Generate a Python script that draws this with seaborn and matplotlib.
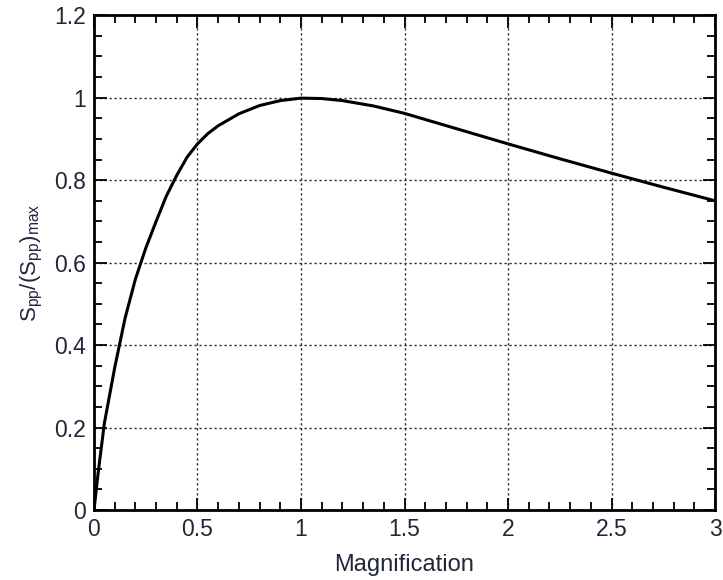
import matplotlib
matplotlib.use("Agg")
import matplotlib.pyplot as plt
from matplotlib.ticker import MultipleLocator
import seaborn as sns
import pandas as pd

# Normalised signal versus magnification
magnification = [0.0, 0.02, 0.05, 0.1, 0.15, 0.2, 0.25, 0.3, 0.35, 0.4, 0.45, 0.5, 0.55, 0.6,
                 0.7, 0.8, 0.9, 1.0, 1.1, 1.2, 1.35, 1.5, 1.75, 2.0, 2.25, 2.5, 2.75, 3.0]
s_ratio = [0.0, 0.09, 0.21, 0.345, 0.465, 0.56, 0.635, 0.70, 0.762, 0.812, 0.856, 0.888, 0.913,
           0.932, 0.961, 0.981, 0.993, 0.999, 0.998, 0.993, 0.980, 0.962, 0.925, 0.888, 0.852,
           0.817, 0.783, 0.75]

x_ticks = [0, 0.5, 1, 1.5, 2, 2.5, 3]
x_tick_labels = ["0", "0.5", "1", "1.5", "2", "2.5", "3"]
y_ticks = [0, 0.2, 0.4, 0.6, 0.8, 1.0, 1.2]
y_tick_labels = ["0", "0.2", "0.4", "0.6", "0.8", "1", "1.2"]

df = pd.DataFrame({"Magnification": magnification, "ratio": s_ratio})

sns.set_theme(style="ticks")
plt.rcParams["font.family"] = ["Liberation Sans", "DejaVu Sans"]
plt.rcParams["mathtext.fontset"] = "custom"
plt.rcParams["mathtext.rm"] = "Liberation Sans"
plt.rcParams["mathtext.it"] = "Liberation Sans:italic"

text_color = "#23263a"

fig = plt.figure(figsize=(7.23, 5.80), dpi=100)
ax = fig.add_axes([0.130, 0.1207, 0.859, 0.853])

sns.lineplot(data=df, x="Magnification", y="ratio", ax=ax,
             color="black", linewidth=2.2, sort=False)

ax.set_xlim(0, 3)
ax.set_ylim(0, 1.2)
ax.set_xticks(x_ticks)
ax.set_xticklabels(x_tick_labels)
ax.set_yticks(y_ticks)
ax.set_yticklabels(y_tick_labels)
ax.xaxis.set_minor_locator(MultipleLocator(0.1))
ax.yaxis.set_minor_locator(MultipleLocator(0.05))

ax.grid(True, which="major", color="#2a2a2a", linestyle=(0, (1.6, 2.0)), linewidth=1.0)

for side in ax.spines.values():
    side.set_linewidth(2.0)
    side.set_color("black")

ax.tick_params(which="both", direction="in", top=True, right=True,
               color="black", width=1.3)
ax.tick_params(which="major", length=9, labelsize=16.5, labelcolor=text_color, pad=6)
ax.tick_params(which="minor", length=6)

ax.set_xlabel("Magnification", fontsize=17, color=text_color, labelpad=9)
ax.set_ylabel(r"$\mathrm{S}_{\rm pp}/(\mathrm{S}_{\rm pp})_{\rm max}$", fontsize=16,
              color=text_color, labelpad=6)

fig.savefig("out.png", dpi=100)
